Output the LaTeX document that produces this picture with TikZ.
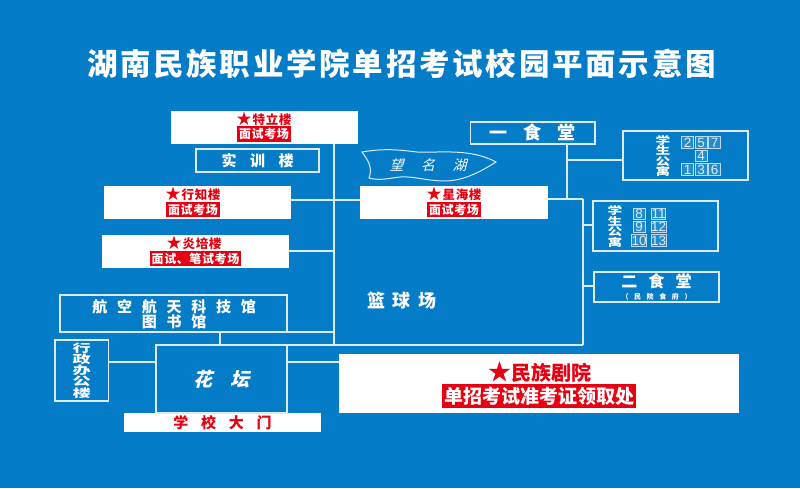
\documentclass[tikz,border=0pt]{standalone}
\usepackage{fontspec}
\usepackage{tikz}
\usetikzlibrary{positioning}
\setmainfont{Liberation Sans}
\newfontfamily\cjk{Noto Sans CJK SC}
\newfontfamily\cjkslant[FakeSlant=0.25]{Noto Sans CJK SC}
\definecolor{campusblue}{HTML}{057CC8}
\definecolor{tagred}{HTML}{E60012}
\definecolor{wirecol}{HTML}{DCEBF6}
\lineskiplimit=-50pt
\newcommand{\sz}[2]{\fontsize{#1}{#2}\selectfont}
\newcommand{\lsp}[1]{\addfontfeature{LetterSpace=#1}}
\newcommand{\hallstar}{{\sz{15}{15}★}\kern1pt}
\newcommand{\dormword}{\scalebox{1.05}[.74]{\parbox{14pt}{\centering 学\\生\\公\\寓}}}
\tikzset{
  whitebox/.style={anchor=north west,fill=white,inner sep=0pt,outer sep=0pt},
  framebox/.style={anchor=north west,draw=wirecol,line width=1.2pt,inner sep=0pt,outer sep=0pt,text=white,align=center},
  wire/.style={draw=wirecol,line width=1.2pt},
  tagtxt/.style={fill=tagred,text=white,inner sep=0pt,inner xsep=2pt,minimum height=15.5pt,font=\cjk\bfseries\sz{12}{14}\lsp{5}},
  startxt/.style={text=tagred,inner sep=0pt,font=\cjk\bfseries\sz{12.5}{15}\lsp{5}},
  numcell/.style={draw=wirecol!85!campusblue,fill=white!12!campusblue,line width=0.6pt,minimum width=12pt,minimum height=11.5pt,inner sep=0pt,text=wirecol,font=\sz{13.5}{13.5}},
}
\begin{document}
\begin{tikzpicture}[x=1pt,y=-1pt,node distance=13.5pt]
  \fill[campusblue] (0,0) rectangle (800,488);
  \useasboundingbox (0,0) rectangle (800,488);

  \node[text=white,font=\cjk\bfseries\sz{30.5}{32}\lsp{9}] (title) at (401.5,63.5) {湖南民族职业学院单招考试校园平面示意图};

  % white halls with the red tags
  \node[whitebox,minimum width=187pt,minimum height=33pt] (teli)  at (170.5,111) {};
  \node[whitebox,minimum width=187pt,minimum height=33pt] (xingz) at (104,186) {};
  \node[whitebox,minimum width=187pt,minimum height=33pt] (yanp)  at (102,235) {};
  \node[whitebox,minimum width=187.5pt,minimum height=33pt] (xingh) at (360,186) {};
  \node[whitebox,minimum width=400.5pt,minimum height=59pt] (theatre) at (338.7,354) {};
  \node[whitebox,minimum width=197pt,minimum height=18.5pt,text=tagred,font=\cjk\bfseries\sz{15}{17}\lsp{85}] (gate) at (124,413) {学校大门};

  \node[startxt] (telia) at (264,118.5) {\hallstar 特立楼};
  \node[tagtxt]  (telib) at (264,134) {面试考场};
  \node[startxt] (xingza) at (193,193.5) {\hallstar 行知楼};
  \node[tagtxt]  (xingzb) at (193,209.5) {面试考场};
  \node[startxt] (yanpa) at (194,242.5) {\hallstar 炎培楼};
  \node[tagtxt]  (yanpb) at (195.5,258.5) {面试、笔试考场};
  \node[startxt] (xingha) at (454,193.5) {\hallstar 星海楼};
  \node[tagtxt]  (xinghb) at (454,209.5) {面试考场};
  \node[text=tagred,inner sep=0pt,font=\cjk\bfseries\sz{20}{22}] (theatrea) at (539.5,372.5) {{\sz{23}{23}★}民族剧院};
  \node[fill=tagred,text=white,inner sep=0pt,inner xsep=2pt,minimum height=24pt,font=\cjk\bfseries\sz{19}{20}] (theatreb) at (539,396) {单招考试准考证领取处};

  % framed buildings
  \node[framebox,minimum width=123pt,minimum height=23pt,font=\cjk\bfseries\sz{15}{17}\lsp{90}] (shix) at (196,149) {实训楼};
  \node[framebox,minimum width=124.5pt,minimum height=22pt,font=\cjk\bfseries\sz{18}{19}\lsp{90}] (yish) at (470.5,122) {一食堂};
  \node[framebox,minimum width=227pt,minimum height=37pt] (hangk) at (60,295) {};
  \node[text=white,align=center,inner sep=0pt,font=\cjk\bfseries\sz{15}{15}\lsp{65}] (hangkt) at (174,314.5) {航空航天科技馆\\图书馆};
  \node[framebox,minimum width=53.5pt,minimum height=61pt,font=\cjk\bfseries\sz{14}{14}] (xingzh) at (55,340) {\scalebox{1.3}[.8]{\parbox{14pt}{\centering 行\\政\\办\\公\\楼}}};
  \node[framebox,minimum width=131pt,minimum height=68pt,font=\cjkslant\bfseries\sz{19}{20}\lsp{90}] (huat) at (156,345) {花坛};
  \node[framebox,minimum width=125pt,minimum height=30pt,font=\cjk\bfseries\sz{16}{16}\lsp{70}] (ersh) at (594,272) {二食堂\\[-4pt]{\sz{7}{8}\lsp{80}（民院食府）}};
  \node[framebox,minimum width=125pt,minimum height=49pt] (dorma) at (623,131) {};
  \node[framebox,minimum width=125pt,minimum height=50pt] (dormb) at (593,201) {};

  % dorm labels and numbers
  \node[text=white,inner sep=0pt,font=\cjk\bfseries\sz{14}{14}] (dormat) at (663,156) {\dormword};
  \node[text=white,inner sep=0pt,font=\cjk\bfseries\sz{14}{14}] (dormbt) at (615,226.5) {\dormword};
  \node[numcell] (n2) at (687.5,142.5) {2};
  \node[numcell] (n5) [right of=n2] {5};
  \node[numcell] (n7) [right of=n5] {7};
  \node[numcell] (n4) [below of=n5] {4};
  \node[numcell] (n3) [below of=n4] {3};
  \node[numcell] (n1) [left of=n3]  {1};
  \node[numcell] (n6) [right of=n3] {6};
  \node[numcell] (n8)  at (639,213.7) {8};
  \node[numcell] (n9)  at (639,227) {9};
  \node[numcell] (n10) at (639,240.5) {10};
  \node[numcell] (n11) at (658.5,213.7) {11};
  \node[numcell] (n12) at (658.5,227) {12};
  \node[numcell] (n13) at (658.5,240.5) {13};

  % lake and court
  \draw[wirecol,line width=1pt] (362,152) .. controls (385,148) and (400,150) .. (417,152)
    .. controls (440,153) and (470,148) .. (496,162)
    .. controls (480,172) and (465,180) .. (447,181)
    .. controls (425,181) and (415,176) .. (400,177)
    .. controls (390,178) and (380,181) .. (369,178)
    .. controls (373,168) and (368,160) .. (362,152) -- cycle;
  \node[text=white,inner sep=0pt,font=\cjkslant\sz{14}{16}\lsp{125}] (lake) at (428,165) {望名湖};
  \node[text=white,inner sep=0pt,font=\cjk\bfseries\sz{18}{20}\lsp{42}] (court) at (402,300.5) {篮球场};

  % junctions of the roads
  \coordinate (c1)  at (334,144);
  \coordinate (c2)  at (334,200);
  \coordinate (c3)  at (334,251);
  \coordinate (c4)  at (334,332);
  \coordinate (c5)  at (334,345);
  \coordinate (c6)  at (220,345);
  \coordinate (c7)  at (583,345);
  \coordinate (c8)  at (583,199);
  \coordinate (c9)  at (567,199);
  \coordinate (c10) at (567,160);
  \coordinate (c11) at (583,225);
  \coordinate (c12) at (583,286);
  \coordinate (c13) at (156,362);
  \coordinate (c14) at (287,362);

  \path[wire]
        (c1)  edge (c5)
        (xingz.east |- c2) edge (xingh.west |- c2)
        (yanp.east |- c3)  edge (c3)
        (hangk.south east) edge (c4)
        (c6)  edge (hangk.south -| c6)
        (huat.north east) edge (c7)
        (c7)  edge (c8)
        (xingh.east |- c8) edge (c8)
        (c9)  edge (yish.south -| c9)
        (c10) edge (dorma.west |- c10)
        (c11) edge (dormb.west |- c11)
        (c12) edge (ersh.west |- c12)
        (xingzh.east |- c13) edge (c13)
        (c14) edge (theatre.west |- c14)
        ;
\end{tikzpicture}
\end{document}
